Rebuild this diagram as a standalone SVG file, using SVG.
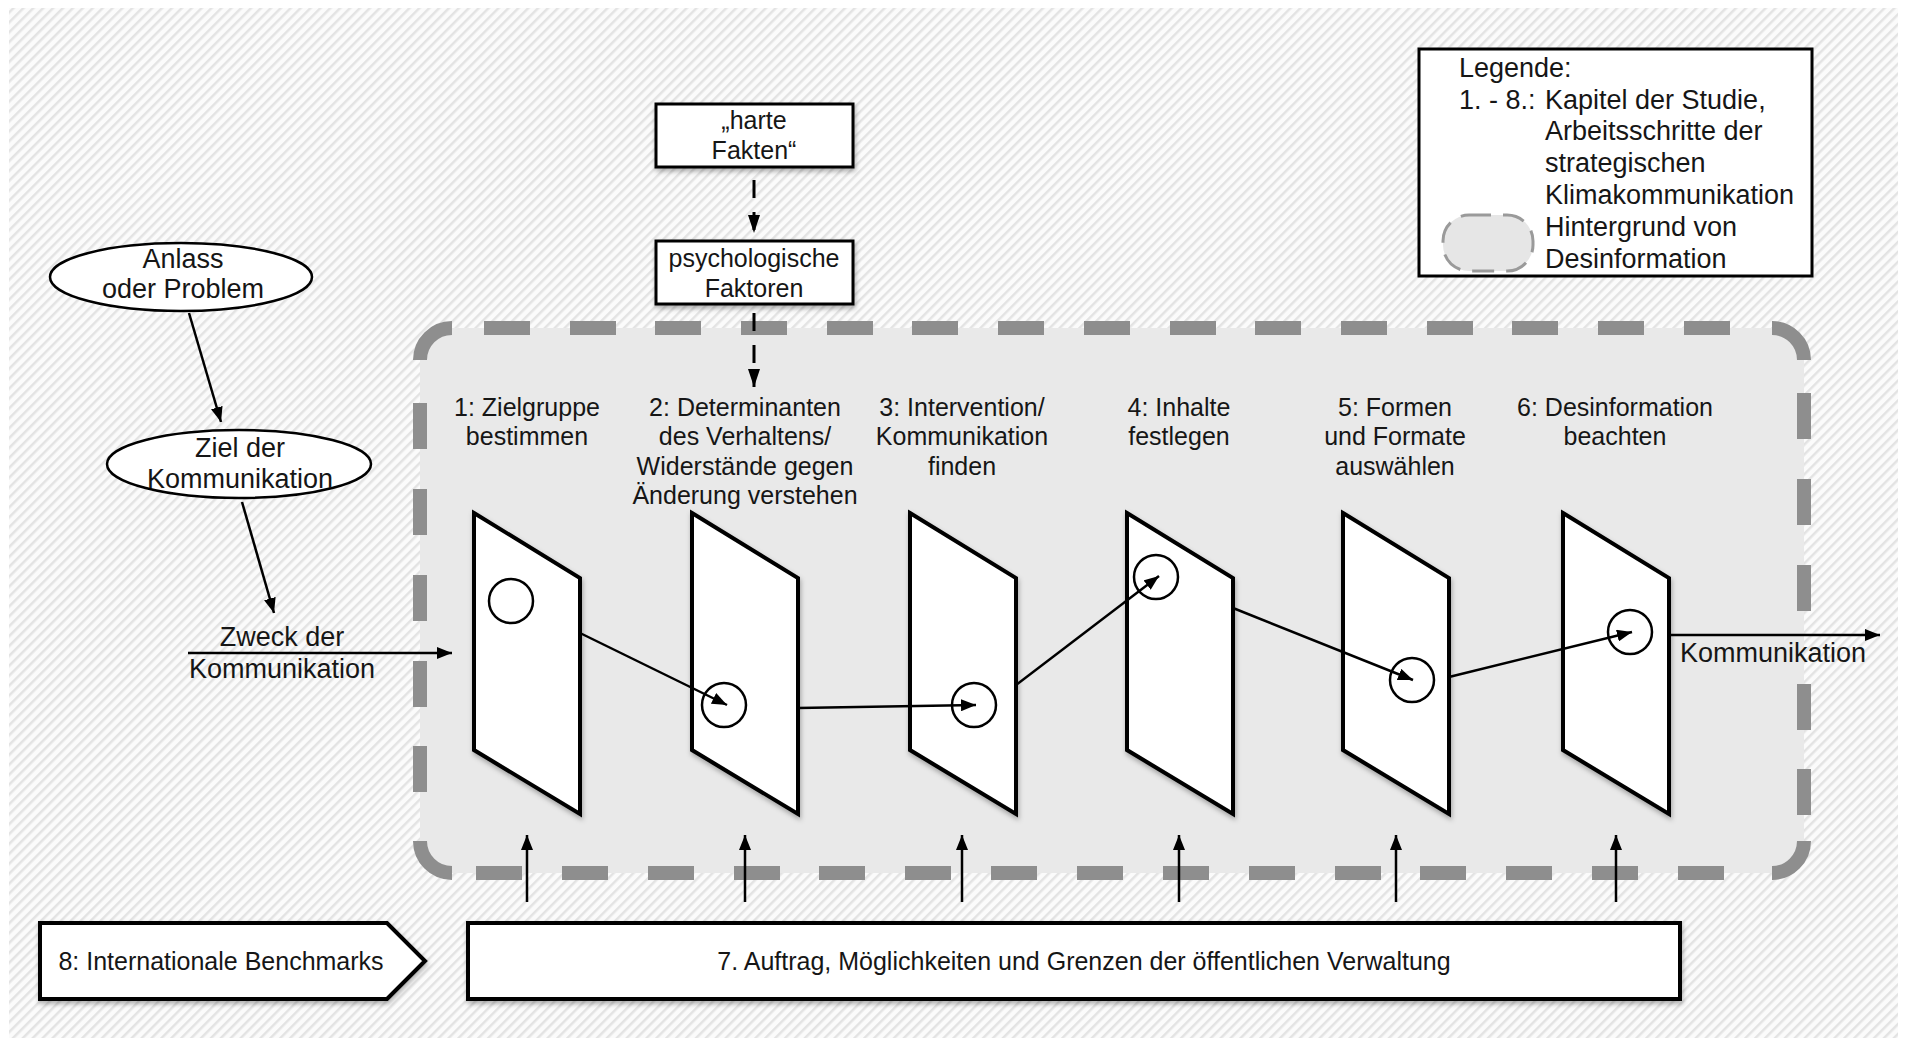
<svg xmlns="http://www.w3.org/2000/svg" width="1907" height="1038" viewBox="0 0 1907 1038">
  <defs>
    <style>
      .txt { font-family: "Liberation Sans", Arial, Helvetica, sans-serif; fill: #161616; }
      .s25 { font-size: 25px; }
      .s27 { font-size: 27px; }
      .mid { text-anchor: middle; }
      .box { fill: #ffffff; stroke: #000000; stroke-width: 4; }
      .thin { fill: #ffffff; stroke: #000000; stroke-width: 3; }
      .oval { fill: #ffffff; stroke: #000000; stroke-width: 2.5; }
      .panel { fill: #ffffff; stroke: #000000; stroke-width: 4; stroke-linejoin: miter; }
      .ring { fill: none; stroke: #000000; stroke-width: 2.5; }
      .edge { fill: none; stroke: #000000; stroke-width: 2.5; }
      .dashedge { fill: none; stroke: #000000; stroke-width: 3; stroke-dasharray: 18 14; }
      .zone-dash { fill: none; stroke: #8e8e8e; stroke-width: 14; stroke-linecap: butt; }
    </style>
    <pattern id="hatch" patternUnits="userSpaceOnUse" width="7" height="7" patternTransform="rotate(45)">
      <rect width="7" height="7" fill="#fbfbfb"/>
      <rect width="2.5" height="7" fill="#e3e3e3"/>
    </pattern>
    <marker id="arr" markerUnits="userSpaceOnUse" markerWidth="15" markerHeight="12" refX="15" refY="6" orient="auto" viewBox="0 0 15 12">
      <path d="M0,0 L15,6 L0,12 z" fill="#000"/>
    </marker>
    <marker id="arrd" markerUnits="userSpaceOnUse" markerWidth="18" markerHeight="12" refX="18" refY="6" orient="auto" viewBox="0 0 18 12">
      <path d="M0,0 L18,6 L0,12 z" fill="#000"/>
    </marker>
    <filter id="shadow" x="-20%" y="-20%" width="140%" height="140%">
      <feDropShadow dx="1" dy="3" stdDeviation="2.5" flood-color="#000" flood-opacity="0.3"/>
    </filter>
  </defs>

  <!-- page background -->
  <rect width="1907" height="1038" fill="#ffffff"/>
  <rect x="9" y="8" width="1889" height="1030" fill="url(#hatch)"/>

  <!-- disinformation background zone -->
  <g id="zone">
    <rect x="420" y="328" width="1384" height="545" rx="32" fill="#e9e9e9"/>
    <path class="zone-dash" d="M420,360 A32,32 0 0 1 452,328 M1772,328 A32,32 0 0 1 1804,360 M1804,841 A32,32 0 0 1 1772,873 M452,873 A32,32 0 0 1 420,841"/>
    <path class="zone-dash" d="M484,328h46 M570,328h46 M655,328h46 M741,328h46 M827,328h46 M912,328h46 M998,328h46 M1084,328h46 M1170,328h46 M1255,328h46 M1341,328h46 M1427,328h46 M1512,328h46 M1598,328h46 M1684,328h46"/>
    <path class="zone-dash" d="M476,873h46 M562,873h46 M648,873h46 M734,873h46 M819,873h46 M905,873h46 M991,873h46 M1077,873h46 M1163,873h46 M1249,873h46 M1335,873h46 M1420,873h46 M1506,873h46 M1592,873h46 M1678,873h46"/>
    <path class="zone-dash" d="M420,403v46 M420,489v46 M420,575v46 M420,661v46 M420,746v46"/>
    <path class="zone-dash" d="M1804,393v46 M1804,479v46 M1804,565v46 M1804,684v46 M1804,769v46"/>
  </g>

  <!-- legend -->
  <g id="legend">
    <rect class="thin" x="1419" y="49" width="393" height="227"/>
    <rect x="1443" y="215" width="90" height="56" rx="26" fill="#e6e6e6" stroke="#9a9a9a" stroke-width="3" stroke-dasharray="22 12"/>
    <text class="txt s27" x="1459" y="77">Legende:</text>
    <text class="txt s27" y="109"><tspan x="1459">1. - 8.:</tspan><tspan x="1545">Kapitel der Studie,</tspan></text>
    <text class="txt s27" x="1545" y="140">Arbeitsschritte der</text>
    <text class="txt s27" x="1545" y="172">strategischen</text>
    <text class="txt s27" x="1545" y="204">Klimakommunikation</text>
    <text class="txt s27" x="1545" y="236">Hintergrund von</text>
    <text class="txt s27" x="1545" y="268">Desinformation</text>
  </g>

  <!-- input nodes -->
  <g id="n-anlass">
    <ellipse class="oval" cx="181" cy="277" rx="131" ry="34"/>
    <text class="txt s27 mid" x="183" y="268">Anlass</text>
    <text class="txt s27 mid" x="183" y="298">oder Problem</text>
  </g>
  <g id="n-ziel">
    <ellipse class="oval" cx="239" cy="464" rx="132" ry="34"/>
    <text class="txt s27 mid" x="240" y="457">Ziel der</text>
    <text class="txt s27 mid" x="240" y="488">Kommunikation</text>
  </g>
  <g id="n-fakten">
    <rect class="thin" x="656" y="104" width="197" height="63" filter="url(#shadow)"/>
    <text class="txt s25 mid" x="754" y="129">„harte</text>
    <text class="txt s25 mid" x="754" y="159">Fakten“</text>
  </g>
  <g id="n-psych">
    <rect class="thin" x="656" y="241" width="197" height="63" filter="url(#shadow)"/>
    <text class="txt s25 mid" x="754" y="267">psychologische</text>
    <text class="txt s25 mid" x="754" y="297">Faktoren</text>
  </g>

  <!-- step panels -->
  <g id="n-step1">
    <text class="txt s25 mid" x="527" y="416">1: Zielgruppe</text>
    <text class="txt s25 mid" x="527" y="445">bestimmen</text>
    <polygon class="panel" points="474,513 580,578 580,814 474,750" filter="url(#shadow)"/>
    <circle class="ring" cx="511" cy="601" r="22"/>
  </g>
  <g id="n-step2">
    <text class="txt s25 mid" x="745" y="416">2: Determinanten</text>
    <text class="txt s25 mid" x="745" y="445">des Verhaltens/</text>
    <text class="txt s25 mid" x="745" y="475">Widerstände gegen</text>
    <text class="txt s25 mid" x="745" y="504">Änderung verstehen</text>
    <polygon class="panel" points="692,513 798,578 798,814 692,750" filter="url(#shadow)"/>
    <circle class="ring" cx="724" cy="705" r="22"/>
  </g>
  <g id="n-step3">
    <text class="txt s25 mid" x="962" y="416">3: Intervention/</text>
    <text class="txt s25 mid" x="962" y="445">Kommunikation</text>
    <text class="txt s25 mid" x="962" y="475">finden</text>
    <polygon class="panel" points="910,513 1016,578 1016,814 910,750" filter="url(#shadow)"/>
    <circle class="ring" cx="974" cy="705" r="22"/>
  </g>
  <g id="n-step4">
    <text class="txt s25 mid" x="1179" y="416">4: Inhalte</text>
    <text class="txt s25 mid" x="1179" y="445">festlegen</text>
    <polygon class="panel" points="1127,513 1233,578 1233,814 1127,750" filter="url(#shadow)"/>
    <circle class="ring" cx="1156" cy="577" r="22"/>
  </g>
  <g id="n-step5">
    <text class="txt s25 mid" x="1395" y="416">5: Formen</text>
    <text class="txt s25 mid" x="1395" y="445">und Formate</text>
    <text class="txt s25 mid" x="1395" y="475">auswählen</text>
    <polygon class="panel" points="1343,513 1449,578 1449,814 1343,750" filter="url(#shadow)"/>
    <circle class="ring" cx="1412" cy="680" r="22"/>
  </g>
  <g id="n-step6">
    <text class="txt s25 mid" x="1615" y="416">6: Desinformation</text>
    <text class="txt s25 mid" x="1615" y="445">beachten</text>
    <polygon class="panel" points="1563,513 1669,578 1669,814 1563,750" filter="url(#shadow)"/>
    <circle class="ring" cx="1630" cy="632" r="22"/>
  </g>

  <!-- frame conditions -->
  <g id="n-benchmarks">
    <polygon class="box" points="40,923 387,923 425,961 387,999 40,999" filter="url(#shadow)"/>
    <text class="txt s25 mid" x="221" y="970">8: Internationale Benchmarks</text>
  </g>
  <g id="n-verwaltung">
    <rect class="box" x="468" y="923" width="1212" height="76" filter="url(#shadow)"/>
    <text class="txt s25 mid" x="1084" y="970">7. Auftrag, Möglichkeiten und Grenzen der öffentlichen Verwaltung</text>
  </g>

  <!-- connectors -->
  <g id="connectors">
    <line class="edge" x1="189" y1="313" x2="221" y2="422" marker-end="url(#arr)"/>
    <line class="edge" x1="242" y1="502" x2="274" y2="613" marker-end="url(#arr)"/>
    <line class="edge" x1="188" y1="653" x2="452" y2="653" marker-end="url(#arr)"/>
    <text class="txt s27 mid" x="282" y="646">Zweck der</text>
    <text class="txt s27 mid" x="282" y="678">Kommunikation</text>

    <line class="dashedge" x1="754" y1="180" x2="754" y2="233" marker-end="url(#arrd)"/>
    <line class="dashedge" x1="754" y1="313" x2="754" y2="387" marker-end="url(#arrd)"/>

    <line class="edge" x1="580" y1="633" x2="727" y2="705" marker-end="url(#arr)"/>
    <line class="edge" x1="798" y1="708" x2="976" y2="705" marker-end="url(#arr)"/>
    <line class="edge" x1="1016" y1="685" x2="1159" y2="576" marker-end="url(#arr)"/>
    <line class="edge" x1="1233" y1="608" x2="1413" y2="680" marker-end="url(#arr)"/>
    <line class="edge" x1="1449" y1="677" x2="1632" y2="632" marker-end="url(#arr)"/>
    <line class="edge" x1="1669" y1="635" x2="1880" y2="635" marker-end="url(#arr)"/>
    <text class="txt s27" x="1680" y="662">Kommunikation</text>

    <line class="edge" x1="527" y1="902" x2="527" y2="835" marker-end="url(#arr)"/>
    <line class="edge" x1="745" y1="902" x2="745" y2="835" marker-end="url(#arr)"/>
    <line class="edge" x1="962" y1="902" x2="962" y2="835" marker-end="url(#arr)"/>
    <line class="edge" x1="1179" y1="902" x2="1179" y2="835" marker-end="url(#arr)"/>
    <line class="edge" x1="1396" y1="902" x2="1396" y2="835" marker-end="url(#arr)"/>
    <line class="edge" x1="1616" y1="902" x2="1616" y2="835" marker-end="url(#arr)"/>
  </g>
</svg>
